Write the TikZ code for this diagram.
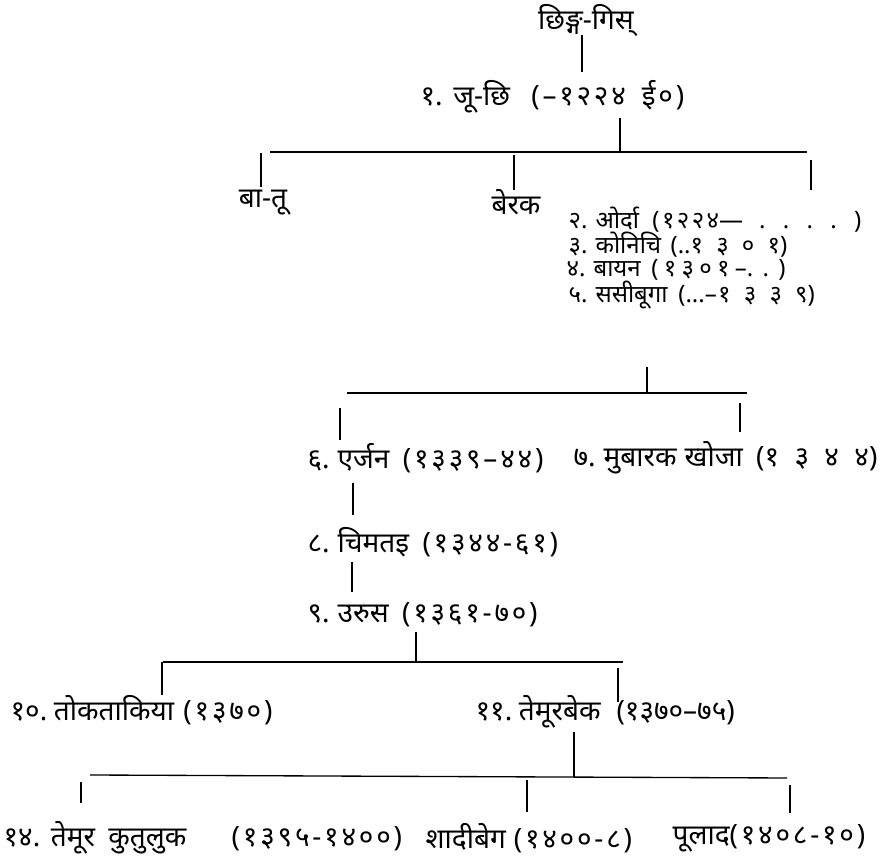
\documentclass[tikz,border=0pt]{standalone}
\usepackage{fontspec}
\newfontfamily\dev[Script=Devanagari]{Noto Sans}
\newfontfamily\devnum[Script=Devanagari,LetterSpace=10]{Noto Sans}
\newfontfamily\devnumw[Script=Devanagari,LetterSpace=55]{Noto Sans}
\newfontfamily\devnumm[Script=Devanagari,LetterSpace=22]{Noto Sans}
\newcommand{\nm}[1]{{\devnum #1}}
\newcommand{\nmw}[1]{{\devnumw #1}}
\newcommand{\nmm}[1]{{\devnumm #1}}
\begin{document}
\begin{tikzpicture}[x=0.75pt,y=-0.75pt,line width=1pt,
  lbl/.style={anchor=west,inner sep=0pt,font=\dev\fontsize{21}{25}\selectfont},
  lst/.style={anchor=west,inner sep=0pt,font=\dev\fontsize{18}{21}\selectfont},
  lnk/.style={line width=1pt}]
\useasboundingbox (0,0) rectangle (886,862);
\fill[white] (0,0) rectangle (886,862);
% nodes
\node[lbl,anchor=center] (chingis) at (586,20) {छिङ्ग-गिस्};
\node[lbl] (juchi) at (420,97) {१.\hspace{8pt}जू-छि\hspace{16pt}\nm{(–\hspace{2pt}१२२४}\hspace{12pt}\nm{ई०)}};
\node[lbl,anchor=center] (batu) at (263,203) {बा-तू};
\node[lbl,anchor=center] (berak) at (516,202) {बेरक};
\node[lst] (orda) at (568,220) {२.\hspace{6pt}ओर्दा\hspace{10pt}\nm{(१२२४}—\hspace{12pt}.\hspace{13pt}.\hspace{13pt}.\hspace{13pt}.\hspace{13pt})};
\node[lst] (konichi) at (568,245) {३.\hspace{6pt}कोनिचि\hspace{7pt}(..\nmw{१३०१})};
\node[lst] (bayan) at (566,270) {४.\hspace{6pt}बायन\hspace{8pt}\nmm{(१३०१–}.\hspace{7pt}.\hspace{7pt})};
\node[lst] (sasibuga) at (568,295) {५.\hspace{6pt}ससीबूगा\hspace{8pt}(...–\hspace{1pt}\nmw{१३३९})};
\node[lbl] (erjan) at (307,458) {६.\hspace{6pt}एर्जन\hspace{10pt}\nm{(१३३९–४४)}};
\node[lbl] (mubarak) at (573,458) {७.\hspace{6pt}मुबारक\hspace{6pt}खोजा\hspace{10pt}(\nmw{१३४४})};
\node[lbl] (chimtai) at (307,542) {८.\hspace{6pt}चिमतइ\hspace{10pt}\nm{(१३४४-६१)}};
\node[lbl] (urus) at (307,615) {९.\hspace{6pt}उरुस\hspace{10pt}\nm{(१३६१-७०)}};
\node[lbl] (tokta) at (10,710) {१०.\hspace{5pt}तोकताकिया\hspace{7pt}\nm{(१३७०)}};
\node[lbl] (temurbek) at (475,712) {११.\hspace{5pt}तेमूरबेक\hspace{12pt}(१३७०–७५)};
\node[lbl] (kutluk) at (3,838) {१४.\hspace{8pt}तेमूर\hspace{10pt}कुतुलुक\hspace{34pt}\nm{(१३९५-१४००)}};
\node[lbl] (shadibeg) at (425,838) {शादीबेग\hspace{6pt}\nm{(१४००-८)}};
\node[lbl] (pulad) at (672,838) {पूलाद\nm{(१४०८-१०)}};
% coordinates
\coordinate (c0a) at (582,35);  \coordinate (c0b) at (582,72);
\coordinate (c1a) at (620,118); \coordinate (c1b) at (620,152);
\coordinate (h1l) at (270,152); \coordinate (h1r) at (807,152);
\coordinate (b1a) at (261,153); \coordinate (b1b) at (261,187);
\coordinate (b2a) at (514,155); \coordinate (b2b) at (514,190);
\coordinate (b3a) at (811,160); \coordinate (b3b) at (811,190);
\coordinate (c2a) at (647,367); \coordinate (c2b) at (647,393);
\coordinate (h2l) at (347,393); \coordinate (h2r) at (747,393);
\coordinate (d1a) at (340,408); \coordinate (d1b) at (340,440);
\coordinate (d2a) at (740,403); \coordinate (d2b) at (740,432);
\coordinate (c3a) at (353,483); \coordinate (c3b) at (353,515);
\coordinate (c4a) at (352,562); \coordinate (c4b) at (352,592);
\coordinate (c5a) at (416,632); \coordinate (c5b) at (416,662);
\coordinate (h3l) at (163,662); \coordinate (h3r) at (623,662);
\coordinate (e1a) at (162,662); \coordinate (e1b) at (162,695);
\coordinate (e2a) at (618,668); \coordinate (e2b) at (618,702);
\coordinate (c6a) at (574,732); \coordinate (c6b) at (574,777);
\coordinate (h4l) at (90,775);  \coordinate (h4r) at (787,778);
\coordinate (f1a) at (81,782);  \coordinate (f1b) at (81,803);
\coordinate (f2a) at (527,780); \coordinate (f2b) at (527,812);
\coordinate (f3a) at (790,785); \coordinate (f3b) at (790,813);
% connectors
\draw[lnk] (c0a) -- (c0b);
\draw[lnk] (c1a) -- (c1b);
\draw[lnk] (h1l) -- (h1r);
\draw[lnk] (b1a) -- (b1b);
\draw[lnk] (b2a) -- (b2b);
\draw[lnk] (b3a) -- (b3b);
\draw[lnk] (c2a) -- (c2b);
\draw[lnk] (h2l) -- (h2r);
\draw[lnk] (d1a) -- (d1b);
\draw[lnk] (d2a) -- (d2b);
\draw[lnk] (c3a) -- (c3b);
\draw[lnk] (c4a) -- (c4b);
\draw[lnk] (c5a) -- (c5b);
\draw[lnk] (h3l) -- (h3r);
\draw[lnk] (e1a) -- (e1b);
\draw[lnk] (e2a) -- (e2b);
\draw[lnk] (c6a) -- (c6b);
\draw[lnk] (h4l) -- (h4r);
\draw[lnk] (f1a) -- (f1b);
\draw[lnk] (f2a) -- (f2b);
\draw[lnk] (f3a) -- (f3b);
\end{tikzpicture}
\end{document}
